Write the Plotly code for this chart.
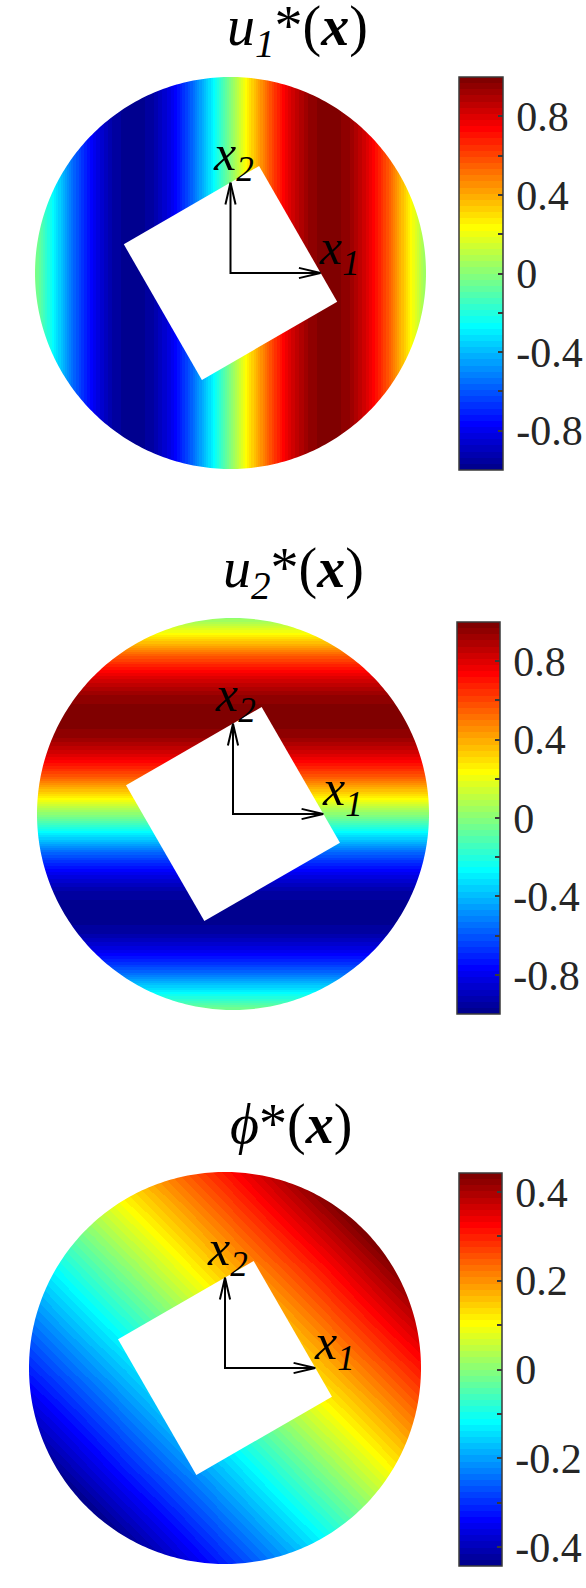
import numpy as np
import plotly.graph_objects as go

W, H = 586, 1588

# ---------------- data ----------------
# u1*(x) varies along x1 only: values sampled along x1 (disk radius = 1)
u1_x1 = [-1.0, -0.9, -0.8, -0.7, -0.6, -0.5, -0.4, -0.3, -0.2, -0.1, 0.0,
         0.1, 0.2, 0.3, 0.4, 0.5, 0.6, 0.7, 0.8, 0.9, 1.0]
u1_vals = [-0.02, -0.30, -0.58, -0.80, -0.95, -1.00, -0.95, -0.80, -0.58, -0.30, 0.00,
           0.30, 0.58, 0.80, 0.95, 1.00, 0.95, 0.80, 0.58, 0.30, 0.02]

# u2*(x) varies along x2 only
u2_x2 = [-1.0, -0.9, -0.8, -0.7, -0.6, -0.5, -0.4, -0.3, -0.2, -0.1, 0.0,
         0.1, 0.2, 0.3, 0.4, 0.5, 0.6, 0.7, 0.8, 0.9, 1.0]
u2_vals = [-0.02, -0.30, -0.58, -0.80, -0.95, -1.00, -0.95, -0.80, -0.58, -0.30, 0.00,
           0.30, 0.58, 0.80, 0.95, 1.00, 0.95, 0.80, 0.58, 0.30, 0.02]

# phi*(x): values on a coarse (x1, x2) grid (rows = x2, columns = x1)
phi_x1 = [-1.0, -0.5, 0.0, 0.5, 1.0]
phi_x2 = [-1.0, -0.5, 0.0, 0.5, 1.0]
phi_vals = [
    [-0.63, -0.47, -0.31, -0.16, 0.00],
    [-0.47, -0.31, -0.16, 0.00, 0.16],
    [-0.31, -0.16, 0.00, 0.16, 0.31],
    [-0.16, 0.00, 0.16, 0.31, 0.47],
    [0.00, 0.16, 0.31, 0.47, 0.63],
]

# colour limits and colourbar ticks
u_range = (-1.0, 1.0)
phi_range = (-0.443, 0.443)
u_tickvals = [-0.8, -0.6, -0.4, -0.2, 0.0, 0.2, 0.4, 0.6, 0.8]
u_ticktext = ["-0.8", "", "-0.4", "", "0", "", "0.4", "", "0.8"]
phi_tickvals = [-0.4, -0.3, -0.2, -0.1, 0.0, 0.1, 0.2, 0.3, 0.4]
phi_ticktext = ["-0.4", "", "-0.2", "", "0", "", "0.2", "", "0.4"]

titles = ["<i>u<sub>1</sub></i>*(<b><i>x</i></b>)",
          "<i>u<sub>2</sub></i>*(<b><i>x</i></b>)",
          "<i>\u03d5</i>*(<b><i>x</i></b>)"]

# ---------------- geometry / style ----------------
FONT = "Liberation Serif, DejaVu Serif, serif"
# disk box (left, right, top, bottom) px; colourbar box; title centre
panels = [
    dict(disk=(35, 426, 77, 469), cb=(459, 503, 77, 470), title=(297, 30)),
    dict(disk=(37, 429, 618, 1010), cb=(457, 500, 622, 1014), title=(293, 572)),
    dict(disk=(29, 421, 1172, 1564), cb=(459, 502, 1173, 1566), title=(291, 1124)),
]
HOLE_R = 0.565      # half-diagonal of the square hole
HOLE_ROT = 30.0     # rotation of the square hole (deg)
ARROW_L = 0.46
HEAD_L = 0.11
HEAD_W = 0.026
PAD = "\u200a"      # small gap between colourbar and its labels


def jet(m=64):
    n = int(np.ceil(m / 4))
    u = np.concatenate([np.arange(1, n + 1) / n, np.ones(n - 1), np.arange(n, 0, -1) / n])
    g = int(np.ceil(n / 2)) - (1 if m % 4 == 1 else 0) + np.arange(1, len(u) + 1)
    r = g + n
    b = g - n
    J = np.zeros((m, 3))
    mg = g <= m
    J[g[mg] - 1, 1] = u[mg]
    mr = r <= m
    J[r[mr] - 1, 0] = u[mr]
    mb = b >= 1
    J[b[mb] - 1, 2] = u[mb]
    return J


J = jet(64)
cscale = []
for k, c in enumerate(J):
    col = "rgb(%d,%d,%d)" % tuple(int(round(v * 255)) for v in c)
    cscale.append([k / 64, col])
    cscale.append([(k + 1) / 64, col])


def cbar(p, tv, tt):
    l, r, t, b = p["cb"]
    return dict(
        x=l / W, xanchor="left", xpad=0,
        y=1 - t / H, yanchor="top", ypad=0,
        len=b - t, lenmode="pixels",
        thickness=r - l, thicknessmode="pixels",
        outlinewidth=1.5, outlinecolor="#3a3a3a",
        tickmode="array", tickvals=tv, ticktext=[(PAD + s) if s else "" for s in tt],
        ticks="inside", ticklen=5, tickwidth=1.5, tickcolor="#3a3a3a",
        tickfont=dict(family=FONT, size=42, color="#262626"),
    )


fig = go.Figure()

fig.add_trace(go.Heatmap(
    x=u1_x1, y=[-1.0, 1.0], z=[u1_vals, u1_vals],
    zmin=u_range[0], zmax=u_range[1], colorscale=cscale, zsmooth="best",
    colorbar=cbar(panels[0], u_tickvals, u_ticktext),
    xaxis="x", yaxis="y", hoverinfo="skip"))

fig.add_trace(go.Heatmap(
    x=[-1.0, 1.0], y=u2_x2, z=[[v, v] for v in u2_vals],
    zmin=u_range[0], zmax=u_range[1], colorscale=cscale, zsmooth="best",
    colorbar=cbar(panels[1], u_tickvals, u_ticktext),
    xaxis="x2", yaxis="y2", hoverinfo="skip"))

fig.add_trace(go.Heatmap(
    x=phi_x1, y=phi_x2, z=phi_vals,
    zmin=phi_range[0], zmax=phi_range[1], colorscale=cscale, zsmooth="best",
    colorbar=cbar(panels[2], phi_tickvals, phi_ticktext),
    xaxis="x3", yaxis="y3", hoverinfo="skip"))

# masks: outside the disk and the square hole
th = np.linspace(0, 2 * np.pi, 361)[:-1]
circle = "M" + " L".join("%.5f,%.5f" % (np.cos(t), np.sin(t)) for t in th) + " Z"
outer = "M-1.6,-1.6 L1.6,-1.6 L1.6,1.6 L-1.6,1.6 Z "
ang = np.deg2rad(np.array([45, 135, 225, 315]) + HOLE_ROT)
hole = "M" + " L".join("%.5f,%.5f" % (HOLE_R * np.cos(a), HOLE_R * np.sin(a)) for a in ang) + " Z"

shapes = []
annotations = []
layout_axes = {}
for i, p in enumerate(panels):
    sfx = "" if i == 0 else str(i + 1)
    xr, yr = "x" + sfx, "y" + sfx
    l, r, t, b = p["disk"]
    layout_axes["xaxis" + sfx] = dict(domain=[l / W, r / W], range=[-1, 1], visible=False,
                                      anchor=yr, fixedrange=True)
    layout_axes["yaxis" + sfx] = dict(domain=[1 - b / H, 1 - t / H], range=[-1, 1], visible=False,
                                      anchor=xr, fixedrange=True)
    shapes.append(dict(type="path", xref=xr, yref=yr, path=outer + circle, fillrule="evenodd",
                       fillcolor="white", line=dict(width=0), layer="above"))
    shapes.append(dict(type="path", xref=xr, yref=yr, path=hole,
                       fillcolor="white", line=dict(width=0), layer="above"))
    # coordinate arrows
    shapes.append(dict(type="path", xref=xr, yref=yr,
                       path="M0,%g L0,0 L%g,0" % (ARROW_L, ARROW_L),
                       line=dict(color="black", width=2), layer="above"))
    shapes.append(dict(type="path", xref=xr, yref=yr,
                       path="M%g,%g L%g,0 L%g,%g" % (ARROW_L - HEAD_L, HEAD_W, ARROW_L,
                                                    ARROW_L - HEAD_L, -HEAD_W),
                       line=dict(color="black", width=2), layer="above"))
    shapes.append(dict(type="path", xref=xr, yref=yr,
                       path="M%g,%g L0,%g L%g,%g" % (-HEAD_W, ARROW_L - HEAD_L, ARROW_L,
                                                    HEAD_W, ARROW_L - HEAD_L),
                       line=dict(color="black", width=2), layer="above"))
    annotations.append(dict(xref=xr, yref=yr, x=0.56, y=0.11, showarrow=False,
                            text="<i>x<sub>1</sub></i>", xanchor="center", yanchor="middle",
                            font=dict(family=FONT, size=50, color="black")))
    annotations.append(dict(xref=xr, yref=yr, x=0.015, y=0.59, showarrow=False,
                            text="<i>x<sub>2</sub></i>", xanchor="center", yanchor="middle",
                            font=dict(family=FONT, size=50, color="black")))
    tx, ty = p["title"]
    annotations.append(dict(xref="paper", yref="paper", x=tx / W, y=1 - ty / H, showarrow=False,
                            text=titles[i], xanchor="center", yanchor="middle",
                            font=dict(family=FONT, size=56, color="black")))

fig.update_layout(
    width=W, height=H, margin=dict(l=0, r=0, t=0, b=0, pad=0, autoexpand=False),
    paper_bgcolor="white", plot_bgcolor="white",
    showlegend=False, shapes=shapes, annotations=annotations,
    **layout_axes,
)

fig.write_html("out.html")
